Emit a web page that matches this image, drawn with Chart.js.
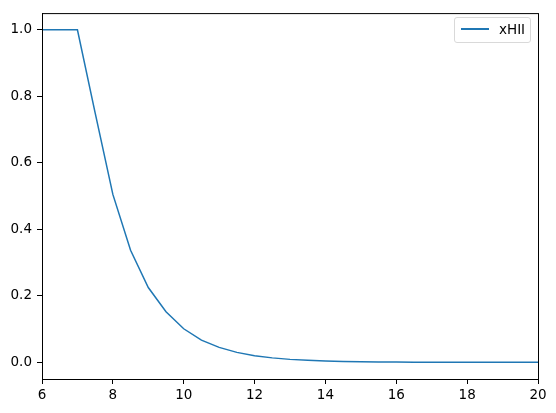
<!DOCTYPE html>
<html>
<head>
<meta charset="utf-8">
<script src="https://cdn.jsdelivr.net/npm/chart.js@4.4.1/dist/chart.umd.min.js"></script>
<style>
  html, body { margin: 0; padding: 0; background: #fff; }
  #wrap { position: relative; width: 556px; height: 413px; }
  #legend {
    position: absolute; left: 454px; top: 17px; width: 77px; height: 26px;
    border: 1px solid #d9d9d9; border-radius: 3px; background: rgba(255,255,255,0.8);
    font-family: "DejaVu Sans", sans-serif; font-size: 13.5px; color: #000;
    box-sizing: border-box;
  }
  #legend .swatch { position: absolute; left: 6px; top: 10px; width: 28px; height: 2px; background: #1f77b4; }
  #legend .label { position: absolute; left: 44px; top: 3px; }
</style>
</head>
<body>
<div id="wrap">
  <canvas id="chart" width="556" height="413"></canvas>
  <div id="legend"><span class="swatch"></span><span class="label">xHII</span></div>
</div>
<script>
// redshift grid and ionized fraction
const zValues = [6, 6.5, 7, 7.5, 8, 8.5, 9, 9.5, 10, 10.5, 11, 11.5, 12, 12.5, 13, 13.5,
  14, 14.5, 15, 15.5, 16, 16.5, 17, 17.5, 18, 18.5, 19, 19.5, 20];
const xHII = [1.0, 1.0, 1.0, 0.75, 0.505, 0.337, 0.225, 0.152, 0.101, 0.067, 0.045, 0.030, 0.020,
  0.0135, 0.009, 0.006, 0.004, 0.0027, 0.0018, 0.0012, 0.0008, 0.0005, 0.0004, 0.0003, 0.0002,
  0.00015, 0.0001, 0.00007, 0.00005];
const xTicks = [6, 8, 10, 12, 14, 16, 18, 20];
const yTicks = [0.0, 0.2, 0.4, 0.6, 0.8, 1.0];

const points = zValues.map((z, i) => ({ x: z, y: xHII[i] }));

// frame around the plot area, like matplotlib's spines
const frame = {
  id: 'frame',
  afterDraw(chart) {
    const { ctx, chartArea: a } = chart;
    ctx.save();
    ctx.strokeStyle = '#000';
    ctx.lineWidth = 1;
    ctx.strokeRect(a.left + 0.5, a.top + 0.5, a.right - a.left, a.bottom - a.top);
    ctx.restore();
  }
};

const tickFont = { family: 'DejaVu Sans', size: 13.5 };

new Chart(document.getElementById('chart').getContext('2d'), {
  type: 'line',
  data: {
    datasets: [{
      label: 'xHII',
      data: points,
      borderColor: '#1f77b4',
      borderWidth: 1.5,
      pointRadius: 0,
      tension: 0,
      fill: false
    }]
  },
  options: {
    responsive: false,
    animation: false,
    layout: { padding: { top: 10, right: 18, left: 0, bottom: 0 } },
    plugins: { legend: { display: false }, tooltip: { enabled: false } },
    scales: {
      x: {
        type: 'linear',
        min: 6,
        max: 20,
        afterBuildTicks: s => { s.ticks = xTicks.map(v => ({ value: v })); },
        afterFit: s => { s.height = 34; },
        ticks: { color: '#000', font: tickFont, padding: 3, maxRotation: 0, callback: v => String(v) },
        grid: { drawOnChartArea: false, drawTicks: true, tickLength: 5, color: '#000' },
        border: { display: true, color: '#000' }
      },
      y: {
        type: 'linear',
        min: -0.05,
        max: 1.05,
        afterBuildTicks: s => { s.ticks = yTicks.map(v => ({ value: v })); },
        afterFit: s => { s.width = 42; },
        ticks: { color: '#000', font: tickFont, padding: 5, callback: v => Number(v).toFixed(1) },
        grid: { drawOnChartArea: false, drawTicks: true, tickLength: 5, color: '#000' },
        border: { display: true, color: '#000' }
      }
    }
  },
  plugins: [frame]
});
</script>
</body>
</html>
